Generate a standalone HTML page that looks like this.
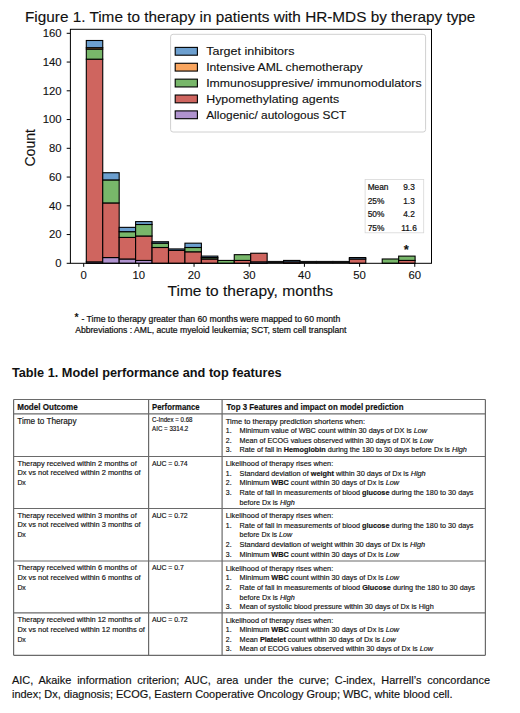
<!DOCTYPE html>
<html><head><meta charset="utf-8"><style>
html,body{margin:0;padding:0;background:#fff;width:520px;height:713px;overflow:hidden}
svg{display:block}
text{font-family:"Liberation Sans", sans-serif;fill:#111}
.t text{stroke:#111;stroke-width:0.16px}
.c text{stroke:#111;stroke-width:0.12px}
text.s,.c text.s{stroke:#111;stroke-width:0.22px}
</style></head><body>
<svg width="520" height="713" viewBox="0 0 520 713">
<g class="c">
<text x="25.0" y="22.1" font-size="13.8" textLength="450.4" lengthAdjust="spacingAndGlyphs">Figure 1. Time to therapy in patients with HR-MDS by therapy type</text>
<rect x="86.30" y="261.86" width="16.44" height="1.44" fill="#b093cf" stroke="#000" stroke-width="1.1"/>
<rect x="86.30" y="59.18" width="16.44" height="202.69" fill="#cf655f" stroke="#000" stroke-width="1.1"/>
<rect x="86.30" y="49.11" width="16.44" height="10.06" fill="#78b76a" stroke="#000" stroke-width="1.1"/>
<rect x="86.30" y="47.68" width="16.44" height="1.44" fill="#f9a55e" stroke="#000" stroke-width="1.1"/>
<rect x="86.30" y="40.49" width="16.44" height="7.19" fill="#6c9fcf" stroke="#000" stroke-width="1.1"/>
<rect x="102.74" y="257.55" width="16.44" height="5.75" fill="#b093cf" stroke="#000" stroke-width="1.1"/>
<rect x="102.74" y="202.93" width="16.44" height="54.62" fill="#cf655f" stroke="#000" stroke-width="1.1"/>
<rect x="102.74" y="179.93" width="16.44" height="23.00" fill="#78b76a" stroke="#000" stroke-width="1.1"/>
<rect x="102.74" y="179.93" width="16.44" height="0.00" fill="#f9a55e" stroke="#000" stroke-width="1.1"/>
<rect x="102.74" y="172.74" width="16.44" height="7.19" fill="#6c9fcf" stroke="#000" stroke-width="1.1"/>
<rect x="119.18" y="258.99" width="16.44" height="4.31" fill="#b093cf" stroke="#000" stroke-width="1.1"/>
<rect x="119.18" y="237.43" width="16.44" height="21.56" fill="#cf655f" stroke="#000" stroke-width="1.1"/>
<rect x="119.18" y="231.68" width="16.44" height="5.75" fill="#78b76a" stroke="#000" stroke-width="1.1"/>
<rect x="119.18" y="231.68" width="16.44" height="0.00" fill="#f9a55e" stroke="#000" stroke-width="1.1"/>
<rect x="119.18" y="227.36" width="16.44" height="4.31" fill="#6c9fcf" stroke="#000" stroke-width="1.1"/>
<rect x="135.62" y="260.43" width="16.44" height="2.88" fill="#b093cf" stroke="#000" stroke-width="1.1"/>
<rect x="135.62" y="235.99" width="16.44" height="24.44" fill="#cf655f" stroke="#000" stroke-width="1.1"/>
<rect x="135.62" y="224.49" width="16.44" height="11.50" fill="#78b76a" stroke="#000" stroke-width="1.1"/>
<rect x="135.62" y="224.49" width="16.44" height="0.00" fill="#f9a55e" stroke="#000" stroke-width="1.1"/>
<rect x="135.62" y="221.61" width="16.44" height="2.88" fill="#6c9fcf" stroke="#000" stroke-width="1.1"/>
<rect x="152.06" y="263.30" width="16.44" height="0.00" fill="#b093cf" stroke="#000" stroke-width="1.1"/>
<rect x="152.06" y="247.49" width="16.44" height="15.81" fill="#cf655f" stroke="#000" stroke-width="1.1"/>
<rect x="152.06" y="243.18" width="16.44" height="4.31" fill="#78b76a" stroke="#000" stroke-width="1.1"/>
<rect x="152.06" y="243.18" width="16.44" height="0.00" fill="#f9a55e" stroke="#000" stroke-width="1.1"/>
<rect x="152.06" y="241.74" width="16.44" height="1.44" fill="#6c9fcf" stroke="#000" stroke-width="1.1"/>
<rect x="168.50" y="263.30" width="16.44" height="0.00" fill="#b093cf" stroke="#000" stroke-width="1.1"/>
<rect x="168.50" y="250.36" width="16.44" height="12.94" fill="#cf655f" stroke="#000" stroke-width="1.1"/>
<rect x="168.50" y="250.36" width="16.44" height="0.00" fill="#78b76a" stroke="#000" stroke-width="1.1"/>
<rect x="168.50" y="250.36" width="16.44" height="0.00" fill="#f9a55e" stroke="#000" stroke-width="1.1"/>
<rect x="168.50" y="248.93" width="16.44" height="1.44" fill="#6c9fcf" stroke="#000" stroke-width="1.1"/>
<rect x="184.94" y="263.30" width="16.44" height="0.00" fill="#b093cf" stroke="#000" stroke-width="1.1"/>
<rect x="184.94" y="251.80" width="16.44" height="11.50" fill="#cf655f" stroke="#000" stroke-width="1.1"/>
<rect x="184.94" y="247.49" width="16.44" height="4.31" fill="#78b76a" stroke="#000" stroke-width="1.1"/>
<rect x="184.94" y="247.49" width="16.44" height="0.00" fill="#f9a55e" stroke="#000" stroke-width="1.1"/>
<rect x="184.94" y="243.18" width="16.44" height="4.31" fill="#6c9fcf" stroke="#000" stroke-width="1.1"/>
<rect x="201.38" y="263.30" width="16.44" height="0.00" fill="#b093cf" stroke="#000" stroke-width="1.1"/>
<rect x="201.38" y="258.99" width="16.44" height="4.31" fill="#cf655f" stroke="#000" stroke-width="1.1"/>
<rect x="201.38" y="257.55" width="16.44" height="1.44" fill="#78b76a" stroke="#000" stroke-width="1.1"/>
<rect x="201.38" y="257.55" width="16.44" height="0.00" fill="#f9a55e" stroke="#000" stroke-width="1.1"/>
<rect x="201.38" y="256.11" width="16.44" height="1.44" fill="#6c9fcf" stroke="#000" stroke-width="1.1"/>
<rect x="217.82" y="263.30" width="16.44" height="0.00" fill="#b093cf" stroke="#000" stroke-width="1.1"/>
<rect x="217.82" y="263.30" width="16.44" height="0.00" fill="#cf655f" stroke="#000" stroke-width="1.1"/>
<rect x="217.82" y="260.43" width="16.44" height="2.88" fill="#78b76a" stroke="#000" stroke-width="1.1"/>
<rect x="217.82" y="260.43" width="16.44" height="0.00" fill="#f9a55e" stroke="#000" stroke-width="1.1"/>
<rect x="217.82" y="260.43" width="16.44" height="0.00" fill="#6c9fcf" stroke="#000" stroke-width="1.1"/>
<rect x="234.26" y="263.30" width="16.44" height="0.00" fill="#b093cf" stroke="#000" stroke-width="1.1"/>
<rect x="234.26" y="260.43" width="16.44" height="2.88" fill="#cf655f" stroke="#000" stroke-width="1.1"/>
<rect x="234.26" y="254.68" width="16.44" height="5.75" fill="#78b76a" stroke="#000" stroke-width="1.1"/>
<rect x="234.26" y="254.68" width="16.44" height="0.00" fill="#f9a55e" stroke="#000" stroke-width="1.1"/>
<rect x="234.26" y="254.68" width="16.44" height="0.00" fill="#6c9fcf" stroke="#000" stroke-width="1.1"/>
<rect x="250.70" y="261.86" width="16.44" height="1.44" fill="#b093cf" stroke="#000" stroke-width="1.1"/>
<rect x="250.70" y="253.24" width="16.44" height="8.62" fill="#cf655f" stroke="#000" stroke-width="1.1"/>
<rect x="250.70" y="253.24" width="16.44" height="0.00" fill="#78b76a" stroke="#000" stroke-width="1.1"/>
<rect x="250.70" y="253.24" width="16.44" height="0.00" fill="#f9a55e" stroke="#000" stroke-width="1.1"/>
<rect x="250.70" y="253.24" width="16.44" height="0.00" fill="#6c9fcf" stroke="#000" stroke-width="1.1"/>
<rect x="266.64" y="260.90" width="17.44" height="2.4" fill="#111"/>
<rect x="283.58" y="263.30" width="16.44" height="0.00" fill="#b093cf" stroke="#000" stroke-width="1.1"/>
<rect x="283.58" y="261.86" width="16.44" height="1.44" fill="#cf655f" stroke="#000" stroke-width="1.1"/>
<rect x="283.58" y="261.86" width="16.44" height="0.00" fill="#78b76a" stroke="#000" stroke-width="1.1"/>
<rect x="283.58" y="261.86" width="16.44" height="0.00" fill="#f9a55e" stroke="#000" stroke-width="1.1"/>
<rect x="283.58" y="260.43" width="16.44" height="1.44" fill="#6c9fcf" stroke="#000" stroke-width="1.1"/>
<rect x="299.52" y="260.90" width="17.44" height="2.4" fill="#111"/>
<rect x="315.96" y="260.90" width="17.44" height="2.4" fill="#111"/>
<rect x="332.40" y="260.90" width="17.44" height="2.4" fill="#111"/>
<rect x="349.34" y="263.30" width="16.44" height="0.00" fill="#b093cf" stroke="#000" stroke-width="1.1"/>
<rect x="349.34" y="258.99" width="16.44" height="4.31" fill="#cf655f" stroke="#000" stroke-width="1.1"/>
<rect x="349.34" y="258.99" width="16.44" height="0.00" fill="#78b76a" stroke="#000" stroke-width="1.1"/>
<rect x="349.34" y="258.99" width="16.44" height="0.00" fill="#f9a55e" stroke="#000" stroke-width="1.1"/>
<rect x="349.34" y="257.55" width="16.44" height="1.44" fill="#6c9fcf" stroke="#000" stroke-width="1.1"/>
<rect x="382.22" y="263.30" width="16.44" height="0.00" fill="#b093cf" stroke="#000" stroke-width="1.1"/>
<rect x="382.22" y="263.30" width="16.44" height="0.00" fill="#cf655f" stroke="#000" stroke-width="1.1"/>
<rect x="382.22" y="258.99" width="16.44" height="4.31" fill="#78b76a" stroke="#000" stroke-width="1.1"/>
<rect x="382.22" y="258.99" width="16.44" height="0.00" fill="#f9a55e" stroke="#000" stroke-width="1.1"/>
<rect x="382.22" y="258.99" width="16.44" height="0.00" fill="#6c9fcf" stroke="#000" stroke-width="1.1"/>
<rect x="398.66" y="263.30" width="16.44" height="0.00" fill="#b093cf" stroke="#000" stroke-width="1.1"/>
<rect x="398.66" y="260.43" width="16.44" height="2.88" fill="#cf655f" stroke="#000" stroke-width="1.1"/>
<rect x="398.66" y="256.11" width="16.44" height="4.31" fill="#78b76a" stroke="#000" stroke-width="1.1"/>
<rect x="398.66" y="256.11" width="16.44" height="0.00" fill="#f9a55e" stroke="#000" stroke-width="1.1"/>
<rect x="398.66" y="256.11" width="16.44" height="0.00" fill="#6c9fcf" stroke="#000" stroke-width="1.1"/>
<text x="406.3" y="254.4" font-size="13" font-weight="bold" text-anchor="middle">*</text>
<rect x="70.4" y="29.3" width="361.1" height="234" fill="none" stroke="#000" stroke-width="1"/>
<line x1="66.7" y1="263.30" x2="70.4" y2="263.30" stroke="#000" stroke-width="1"/>
<text x="55.30" y="267.00" font-size="10.8" textLength="6.3" lengthAdjust="spacingAndGlyphs">0</text>
<line x1="66.7" y1="234.55" x2="70.4" y2="234.55" stroke="#000" stroke-width="1"/>
<text x="49.00" y="238.25" font-size="10.8" textLength="12.6" lengthAdjust="spacingAndGlyphs">20</text>
<line x1="66.7" y1="205.80" x2="70.4" y2="205.80" stroke="#000" stroke-width="1"/>
<text x="49.00" y="209.50" font-size="10.8" textLength="12.6" lengthAdjust="spacingAndGlyphs">40</text>
<line x1="66.7" y1="177.05" x2="70.4" y2="177.05" stroke="#000" stroke-width="1"/>
<text x="49.00" y="180.75" font-size="10.8" textLength="12.6" lengthAdjust="spacingAndGlyphs">60</text>
<line x1="66.7" y1="148.30" x2="70.4" y2="148.30" stroke="#000" stroke-width="1"/>
<text x="49.00" y="152.00" font-size="10.8" textLength="12.6" lengthAdjust="spacingAndGlyphs">80</text>
<line x1="66.7" y1="119.55" x2="70.4" y2="119.55" stroke="#000" stroke-width="1"/>
<text x="42.70" y="123.25" font-size="10.8" textLength="18.9" lengthAdjust="spacingAndGlyphs">100</text>
<line x1="66.7" y1="90.80" x2="70.4" y2="90.80" stroke="#000" stroke-width="1"/>
<text x="42.70" y="94.50" font-size="10.8" textLength="18.9" lengthAdjust="spacingAndGlyphs">120</text>
<line x1="66.7" y1="62.05" x2="70.4" y2="62.05" stroke="#000" stroke-width="1"/>
<text x="42.70" y="65.75" font-size="10.8" textLength="18.9" lengthAdjust="spacingAndGlyphs">140</text>
<line x1="66.7" y1="33.30" x2="70.4" y2="33.30" stroke="#000" stroke-width="1"/>
<text x="42.70" y="37.00" font-size="10.8" textLength="18.9" lengthAdjust="spacingAndGlyphs">160</text>
<line x1="83.70" y1="263.3" x2="83.70" y2="266.8" stroke="#000" stroke-width="1"/>
<text x="80.55" y="279.2" font-size="10.8" textLength="6.3" lengthAdjust="spacingAndGlyphs">0</text>
<line x1="138.88" y1="263.3" x2="138.88" y2="266.8" stroke="#000" stroke-width="1"/>
<text x="132.58" y="279.2" font-size="10.8" textLength="12.6" lengthAdjust="spacingAndGlyphs">10</text>
<line x1="194.06" y1="263.3" x2="194.06" y2="266.8" stroke="#000" stroke-width="1"/>
<text x="187.76" y="279.2" font-size="10.8" textLength="12.6" lengthAdjust="spacingAndGlyphs">20</text>
<line x1="249.24" y1="263.3" x2="249.24" y2="266.8" stroke="#000" stroke-width="1"/>
<text x="242.94" y="279.2" font-size="10.8" textLength="12.6" lengthAdjust="spacingAndGlyphs">30</text>
<line x1="304.42" y1="263.3" x2="304.42" y2="266.8" stroke="#000" stroke-width="1"/>
<text x="298.12" y="279.2" font-size="10.8" textLength="12.6" lengthAdjust="spacingAndGlyphs">40</text>
<line x1="359.60" y1="263.3" x2="359.60" y2="266.8" stroke="#000" stroke-width="1"/>
<text x="353.30" y="279.2" font-size="10.8" textLength="12.6" lengthAdjust="spacingAndGlyphs">50</text>
<line x1="414.78" y1="263.3" x2="414.78" y2="266.8" stroke="#000" stroke-width="1"/>
<text x="408.48" y="279.2" font-size="10.8" textLength="12.6" lengthAdjust="spacingAndGlyphs">60</text>
<text x="167.6" y="295.9" font-size="13.8" textLength="165.5" lengthAdjust="spacingAndGlyphs">Time to therapy, months</text>
<text transform="translate(35.4,166.6) rotate(-90)" font-size="14" textLength="37.6" lengthAdjust="spacingAndGlyphs">Count</text>
<rect x="170.6" y="34.3" width="255" height="97.7" rx="2.5" fill="#fff" fill-opacity="0.8" stroke="#d0d0d0" stroke-width="1"/>
<rect x="175.2" y="47.40" width="22.2" height="7.8" fill="#6c9fcf" stroke="#000" stroke-width="1.1"/>
<text x="206.2" y="55.20" font-size="11" textLength="88.3" lengthAdjust="spacingAndGlyphs">Target inhibitors</text>
<rect x="175.2" y="63.27" width="22.2" height="7.8" fill="#f9a55e" stroke="#000" stroke-width="1.1"/>
<text x="206.2" y="71.08" font-size="11" textLength="156.5" lengthAdjust="spacingAndGlyphs">Intensive AML chemotherapy</text>
<rect x="175.2" y="79.15" width="22.2" height="7.8" fill="#78b76a" stroke="#000" stroke-width="1.1"/>
<text x="206.2" y="86.95" font-size="11" textLength="215.4" lengthAdjust="spacingAndGlyphs">Immunosuppresive/ immunomodulators</text>
<rect x="175.2" y="95.02" width="22.2" height="7.8" fill="#cf655f" stroke="#000" stroke-width="1.1"/>
<text x="206.2" y="102.83" font-size="11" textLength="133.0" lengthAdjust="spacingAndGlyphs">Hypomethylating agents</text>
<rect x="175.2" y="110.90" width="22.2" height="7.8" fill="#b093cf" stroke="#000" stroke-width="1.1"/>
<text x="206.2" y="118.70" font-size="11" textLength="140.2" lengthAdjust="spacingAndGlyphs">Allogenic/ autologous SCT</text>
<rect x="365.1" y="179.4" width="58.6" height="53.4" fill="#fff" stroke="#d8d8d8" stroke-width="0.8"/>
<text class="s" x="367.7" y="189.9" font-size="8.3">Mean</text>
<text class="s" x="409" y="189.9" font-size="8.3" text-anchor="middle">9.3</text>
<text class="s" x="367.7" y="203.5" font-size="8.3">25%</text>
<text class="s" x="409" y="203.5" font-size="8.3" text-anchor="middle">1.3</text>
<text class="s" x="367.7" y="217.1" font-size="8.3">50%</text>
<text class="s" x="409" y="217.1" font-size="8.3" text-anchor="middle">4.2</text>
<text class="s" x="367.7" y="230.7" font-size="8.3">75%</text>
<text class="s" x="409" y="230.7" font-size="8.3" text-anchor="middle">11.6</text>
</g>
<text x="74.6" y="321.1" font-size="10.5" font-weight="bold">*</text>
<text class="s" x="81.5" y="321.5" font-size="8.5" textLength="258.8" lengthAdjust="spacingAndGlyphs">- Time to therapy greater than 60 months were mapped to 60 month</text>
<text class="s" x="75.2" y="332.9" font-size="8.6" textLength="271.3" lengthAdjust="spacingAndGlyphs">Abbreviations : AML, acute myeloid leukemia; SCT, stem cell transplant</text>
<text x="11.9" y="377.1" font-size="12.3" font-weight="bold" textLength="269.8" lengthAdjust="spacingAndGlyphs">Table 1. Model performance and top features</text>
<line x1="13.6" y1="399.5" x2="13.6" y2="655.3" stroke="#6a6a6a" stroke-width="1.2"/>
<line x1="148.6" y1="399.5" x2="148.6" y2="655.3" stroke="#6a6a6a" stroke-width="1.2"/>
<line x1="222.1" y1="399.5" x2="222.1" y2="655.3" stroke="#6a6a6a" stroke-width="1.2"/>
<line x1="485.4" y1="399.5" x2="485.4" y2="655.3" stroke="#6a6a6a" stroke-width="1.2"/>
<line x1="13.6" y1="399.5" x2="485.4" y2="399.5" stroke="#6a6a6a" stroke-width="1.2"/>
<line x1="13.6" y1="413.8" x2="485.4" y2="413.8" stroke="#6a6a6a" stroke-width="1.2"/>
<line x1="13.6" y1="456.5" x2="485.4" y2="456.5" stroke="#6a6a6a" stroke-width="1.2"/>
<line x1="13.6" y1="508.5" x2="485.4" y2="508.5" stroke="#6a6a6a" stroke-width="1.2"/>
<line x1="13.6" y1="561" x2="485.4" y2="561" stroke="#6a6a6a" stroke-width="1.2"/>
<line x1="13.6" y1="612.9" x2="485.4" y2="612.9" stroke="#6a6a6a" stroke-width="1.2"/>
<line x1="13.6" y1="655.3" x2="485.4" y2="655.3" stroke="#6a6a6a" stroke-width="1.2"/>
<g class="t">
<text x="17.2" y="409.8" font-size="8.4" font-weight="bold" textLength="60.5" lengthAdjust="spacingAndGlyphs">Model Outcome</text>
<text x="152.1" y="409.8" font-size="8.4" font-weight="bold" textLength="47.5" lengthAdjust="spacingAndGlyphs">Performance</text>
<text x="226.6" y="409.8" font-size="8.4" font-weight="bold" textLength="176.9" lengthAdjust="spacingAndGlyphs">Top 3 Features and impact on model prediction</text>
<text x="17.2" y="424.0" font-size="8.5" textLength="59.3" lengthAdjust="spacingAndGlyphs">Time to Therapy</text>
<text x="152.1" y="422.1" font-size="6.4" textLength="40.4" lengthAdjust="spacingAndGlyphs">C-Index = 0.68</text>
<text x="152.1" y="431.0" font-size="6.4" textLength="36.2" lengthAdjust="spacingAndGlyphs">AIC = 3314.2</text>
<text x="225.8" y="423.5" font-size="7.4" textLength="139.3" lengthAdjust="spacingAndGlyphs">Time to therapy prediction shortens when:</text>
<text x="225.8" y="433.1" font-size="6.9">1.</text>
<text x="239.6" y="433.1" font-size="7.4" textLength="187.5" lengthAdjust="spacingAndGlyphs">Minimum value of WBC count within 30 days of DX is <tspan font-style="italic">Low</tspan></text>
<text x="225.8" y="442.7" font-size="6.9">2.</text>
<text x="239.6" y="442.7" font-size="7.4" textLength="193.3" lengthAdjust="spacingAndGlyphs">Mean of ECOG values observed within  30 days of DX is <tspan font-style="italic">Low</tspan></text>
<text x="225.8" y="452.3" font-size="6.9">3.</text>
<text x="239.6" y="452.3" font-size="7.4" textLength="227.3" lengthAdjust="spacingAndGlyphs">Rate of fall in <tspan font-weight="bold">Hemoglobin</tspan> during the 180 to 30 days before Dx is <tspan font-style="italic">High</tspan></text>
<text x="225.8" y="466.2" font-size="7.4" textLength="107.4" lengthAdjust="spacingAndGlyphs">Likelihood of therapy rises when:</text>
<text x="225.8" y="475.8" font-size="6.9">1.</text>
<text x="239.6" y="475.8" font-size="7.4" textLength="186.1" lengthAdjust="spacingAndGlyphs">Standard deviation of <tspan font-weight="bold">weight</tspan> within 30 days of Dx is <tspan font-style="italic">High</tspan></text>
<text x="225.8" y="485.4" font-size="6.9">2.</text>
<text x="239.6" y="485.4" font-size="7.4" textLength="159.5" lengthAdjust="spacingAndGlyphs">Minimum <tspan font-weight="bold">WBC</tspan> count within 30 days of Dx is <tspan font-style="italic">Low</tspan></text>
<text x="225.8" y="495.0" font-size="6.9">3.</text>
<text x="239.6" y="495.0" font-size="7.4" textLength="233.9" lengthAdjust="spacingAndGlyphs">Rate of fall in measurements of blood <tspan font-weight="bold">glucose</tspan> during the 180 to 30 days</text>
<text x="239.6" y="504.6" font-size="7.4" textLength="55.1" lengthAdjust="spacingAndGlyphs">before Dx is <tspan font-style="italic">High</tspan></text>
<text x="225.8" y="518.2" font-size="7.4" textLength="107.4" lengthAdjust="spacingAndGlyphs">Likelihood of therapy rises when:</text>
<text x="225.8" y="527.8" font-size="6.9">1.</text>
<text x="239.6" y="527.8" font-size="7.4" textLength="233.9" lengthAdjust="spacingAndGlyphs">Rate of fall in measurements of blood <tspan font-weight="bold">glucose</tspan> during the 180 to 30 days</text>
<text x="239.6" y="537.4" font-size="7.4" textLength="52.4" lengthAdjust="spacingAndGlyphs">before Dx is <tspan font-style="italic">Low</tspan></text>
<text x="225.8" y="547.0" font-size="6.9">2.</text>
<text x="239.6" y="547.0" font-size="7.4" textLength="185.5" lengthAdjust="spacingAndGlyphs">Standard deviation of weight within 30 days of Dx is <tspan font-style="italic">High</tspan></text>
<text x="225.8" y="556.6" font-size="6.9">3.</text>
<text x="239.6" y="556.6" font-size="7.4" textLength="159.5" lengthAdjust="spacingAndGlyphs">Minimum <tspan font-weight="bold">WBC</tspan> count within 30 days of Dx is <tspan font-style="italic">Low</tspan></text>
<text x="225.8" y="570.7" font-size="7.4" textLength="107.4" lengthAdjust="spacingAndGlyphs">Likelihood of therapy rises when:</text>
<text x="225.8" y="580.3" font-size="6.9">1.</text>
<text x="239.6" y="580.3" font-size="7.4" textLength="159.5" lengthAdjust="spacingAndGlyphs">Minimum <tspan font-weight="bold">WBC</tspan> count within 30 days of Dx is <tspan font-style="italic">Low</tspan></text>
<text x="225.8" y="589.9" font-size="6.9">2.</text>
<text x="239.6" y="589.9" font-size="7.4" textLength="235.4" lengthAdjust="spacingAndGlyphs">Rate of fall in measurements of blood <tspan font-weight="bold">Glucose</tspan> during the 180 to 30 days</text>
<text x="239.6" y="599.5" font-size="7.4" textLength="55.1" lengthAdjust="spacingAndGlyphs">before Dx is <tspan font-style="italic">High</tspan></text>
<text x="225.8" y="609.1" font-size="6.9">3.</text>
<text x="239.6" y="609.1" font-size="7.4" textLength="194.1" lengthAdjust="spacingAndGlyphs">Mean of systolic blood pressure within 30 days of Dx is High</text>
<text x="225.8" y="622.6" font-size="7.4" textLength="107.4" lengthAdjust="spacingAndGlyphs">Likelihood of therapy rises when:</text>
<text x="225.8" y="632.2" font-size="6.9">1.</text>
<text x="239.6" y="632.2" font-size="7.4" textLength="159.5" lengthAdjust="spacingAndGlyphs">Minimum <tspan font-weight="bold">WBC</tspan> count within 30 days of Dx is <tspan font-style="italic">Low</tspan></text>
<text x="225.8" y="641.8" font-size="6.9">2.</text>
<text x="239.6" y="641.8" font-size="7.4" textLength="156.1" lengthAdjust="spacingAndGlyphs">Mean <tspan font-weight="bold">Platelet</tspan> count within 30 days of Dx is <tspan font-style="italic">Low</tspan></text>
<text x="225.8" y="651.4" font-size="6.9">3.</text>
<text x="239.6" y="651.4" font-size="7.4" textLength="193.3" lengthAdjust="spacingAndGlyphs">Mean of ECOG values observed within  30 days of Dx is <tspan font-style="italic">Low</tspan></text>
<text x="17.4" y="465.5" font-size="7.4" textLength="119.4" lengthAdjust="spacingAndGlyphs">Therapy received within 2 months of</text>
<text x="17.4" y="475.3" font-size="7.4" textLength="123.2" lengthAdjust="spacingAndGlyphs">Dx vs not received within 2 months of</text>
<text x="17.4" y="485.1" font-size="6.9">Dx</text>
<text x="17.4" y="517.5" font-size="7.4" textLength="119.4" lengthAdjust="spacingAndGlyphs">Therapy received within 3 months of</text>
<text x="17.4" y="527.3" font-size="7.4" textLength="123.2" lengthAdjust="spacingAndGlyphs">Dx vs not received within 3 months of</text>
<text x="17.4" y="537.1" font-size="6.9">Dx</text>
<text x="17.4" y="570.0" font-size="7.4" textLength="119.4" lengthAdjust="spacingAndGlyphs">Therapy received within 6 months of</text>
<text x="17.4" y="579.8" font-size="7.4" textLength="123.2" lengthAdjust="spacingAndGlyphs">Dx vs not received within 6 months of</text>
<text x="17.4" y="589.6" font-size="6.9">Dx</text>
<text x="17.4" y="621.9" font-size="7.4" textLength="123.2" lengthAdjust="spacingAndGlyphs">Therapy received within 12 months of</text>
<text x="17.4" y="631.7" font-size="7.4" textLength="127.5" lengthAdjust="spacingAndGlyphs">Dx vs not received within 12 months of</text>
<text x="17.4" y="641.5" font-size="6.9">Dx</text>
<text x="151.9" y="465.8" font-size="6.9">AUC = 0.74</text>
<text x="151.9" y="517.8" font-size="6.9">AUC = 0.72</text>
<text x="151.9" y="570.3" font-size="6.9">AUC = 0.7</text>
<text x="151.9" y="622.2" font-size="6.9">AUC = 0.72</text>
<text x="12" y="683.8" font-size="10.95" style="word-spacing:2.7px" textLength="478" lengthAdjust="spacing">AIC, Akaike information criterion; AUC, area under the curve; C-index, Harrell’s concordance</text>
<text x="12" y="698.1" font-size="10.95" textLength="440.5" lengthAdjust="spacingAndGlyphs">index; Dx, diagnosis; ECOG, Eastern Cooperative Oncology Group; WBC, white blood cell.</text>
</g>
</svg>
</body></html>
